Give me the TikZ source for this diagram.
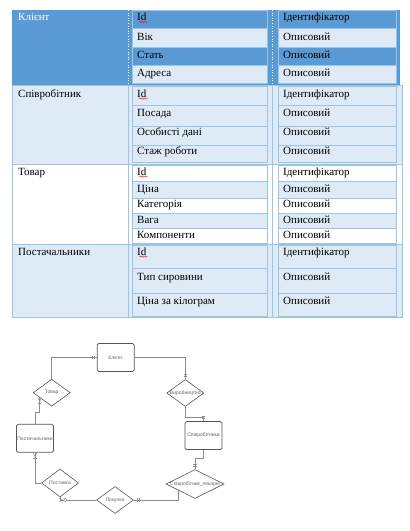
\documentclass[tikz,border=0pt]{standalone}
\usepackage{fontspec}
\setmainfont{Liberation Serif}
\setsansfont{Liberation Sans}
\usetikzlibrary{positioning,shapes.geometric,calc,decorations.pathmorphing,decorations.markings}
\definecolor{hdblue}{HTML}{5B9BD5}
\definecolor{ltblue}{HTML}{DEEAF6}
\definecolor{lnblue}{HTML}{9DC3E6}
\definecolor{ergray}{HTML}{8C8C8C}
\definecolor{erdark}{HTML}{555555}
\definecolor{ertext}{HTML}{666666}

\begin{document}
\begin{tikzpicture}[x=1pt,y=-1pt,on grid,
	txt/.style={anchor=base west,inner sep=0pt,font=\fontsize{11}{13}\selectfont},
	typo/.style={red,line width=0.4pt,decorate,decoration={snake,amplitude=0.7pt,segment length=2.5pt}},
	entity/.style={draw=erdark,line width=0.7pt,rounded corners=1.5pt,minimum width=37pt,minimum height=28pt,inner sep=0pt,font=\sffamily\fontsize{5}{6}\selectfont,text=ertext},
	rel/.style={draw=erdark,line width=0.6pt,diamond,minimum width=37pt,minimum height=27pt,inner sep=0pt},
	lbl/.style={inner sep=0pt,font=\sffamily\fontsize{5}{6}\selectfont,text=ertext},
	link/.style={draw=ergray,line width=0.5pt},
	one end/.style={postaction={decorate,decoration={markings,
		mark=at position -3pt with {\draw[link] (0pt,-1.8pt) -- (0pt,1.8pt);},
		mark=at position -5pt with {\draw[link] (0pt,-1.8pt) -- (0pt,1.8pt);}}}},
	one start/.style={postaction={decorate,decoration={markings,
		mark=at position 3pt with {\draw[link] (0pt,-1.8pt) -- (0pt,1.8pt);},
		mark=at position 5pt with {\draw[link] (0pt,-1.8pt) -- (0pt,1.8pt);}}}},
	many end/.style={postaction={decorate,decoration={markings,
		mark=at position -4pt with {\draw[link] (0pt,0pt) -- (4pt,1.8pt) (0pt,0pt) -- (4pt,-1.8pt);},
		mark=at position -5.5pt with {\draw[link] (0pt,-1.8pt) -- (0pt,1.8pt);}}}},
	zmany start/.style={postaction={decorate,decoration={markings,
		mark=at position 5pt with {\draw[link] (0pt,0pt) -- (-3pt,1.8pt) (0pt,0pt) -- (-3pt,-1.8pt);},
		mark=at position 8pt with {\draw[link,fill=white] (0pt,0pt) circle (1.8pt);}}}}
	]
	\fill[white] (0,0) rectangle (410,531);
	\useasboundingbox (0,0) rectangle (410,531);
	
	\fill[hdblue] (12,10) rectangle (400,85);
	\fill[ltblue] (12,85) rectangle (402,164);
	\fill[ltblue] (12,244) rectangle (402,317);
	\draw[lnblue,line width=0.6pt] (12,85) rectangle (402,317) (12,164) -- (402,164) (12,244) -- (402,244)
		(128,85) -- (128,317) (272,85) -- (272,317);
	\draw[white,dotted,line width=0.6pt] (128,10) -- (128,85) (272,10) -- (272,85);
	
	\node[txt,text=white] (client t) at (18,20) {Клієнт};
	\node[txt] (employee t) at (18,97) {Співробітник};
	\node[txt] (goods t) at (18,175) {Товар};
	\node[txt] (supplier t) at (18,255) {Постачальники};
	
	\foreach \ya/\yb/\cl/\na/\nb/\yt [count=\i] in {
		10.7/28.3/hdblue/Id/Ідентифікатор/20.5,
		28.3/47.3/ltblue/Вік/Описовий/40,
		47.3/65/hdblue/Стать/Описовий/58.5,
		65/83.7/ltblue/Адреса/Описовий/76.5,
		86/105/ltblue/Id/Ідентифікатор/97,
		105/126/ltblue/Посада/Описовий/116,
		126/145/ltblue/Особисті дані/Описовий/135,
		145/162/ltblue/Стаж роботи/Описовий/154,
		165/181/white/Id/Ідентифікатор/175,
		181/198/ltblue/Ціна/Описовий/192,
		198/213/white/Категорія/Описовий/207.5,
		213/228/ltblue/Вага/Описовий/223,
		228/243/white/Компоненти/Описовий/238,
		245/268/ltblue/Id/Ідентифікатор/255,
		268/293/ltblue/Тип сировини/Описовий/280,
		293/316/ltblue/Ціна за кілограм/Описовий/304}{
		\filldraw[fill=\cl,draw=lnblue,line width=0.6pt] (132,\ya) rectangle (267,\yb) (278,\ya) rectangle (396,\yb);
		\node[txt] (attr\i) at (137,\yt) {\na};
		\node[txt] (kind\i) at (283,\yt) {\nb};
	}
	\foreach \yt in {22,98.5,176.5,256.5}
		\draw[typo] (139,\yt) -- (148,\yt);
	
	\node[entity] (client) at (115.7,357.5) {Клієнт};
	\node[rel,label={[lbl]center:Виробництво},below right=35.5pt and 69.6pt of client] (production) {};
	\node[entity,below right=42.5pt and 18.2pt of production] (employee) {Співробітники};
	\node[rel,minimum width=58pt,minimum height=29pt,label={[lbl]center:Співробітник\_пекарні},below left=48.5pt and 8.5pt of employee] (bakery) {};
	\node[rel,label={[lbl]center:Покупка},below left=16pt and 80pt of bakery] (purchase) {};
	\node[rel,minimum height=28pt,label={[lbl]center:Поставка},above left=17pt and 55pt of purchase] (delivery) {};
	\node[entity,above left=44.7pt and 25pt of delivery] (supplier) {Постачальники};
	\node[rel,label={[lbl]center:Товар},above right=45.6pt and 16.7pt of supplier] (goods) {};
	
	\draw[link,one end] (goods.north) |- (client.west);
	\draw[link,one end] (client.east) -| (production.north);
	\draw[link,one end] (production.south) -- ++(0,10) -| (employee.north);
	\draw[link,one end] (employee.south) -- ++(0,8) -| (bakery.north);
	\draw[link,one start] (purchase.east) -| ($(bakery.west)!0.42!(bakery.south)$);
	\draw[link,many end] (supplier.north) -- ++(0,-12) -| ($(goods.west)!0.36!(goods.south)$);
	\draw[link,many end] (delivery.west) -| (supplier.south);
	\draw[link,zmany start] (delivery.south) |- (purchase.west);
\end{tikzpicture}
\end{document}
